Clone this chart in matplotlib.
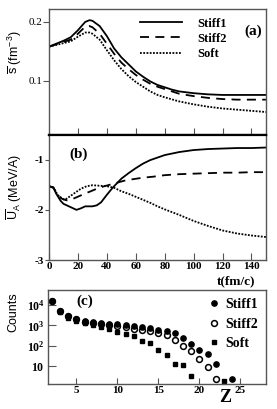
import matplotlib
matplotlib.use("Agg")
import matplotlib.pyplot as plt
import numpy as np
from matplotlib.ticker import FixedLocator, LogLocator, NullFormatter

plt.rcParams['axes.unicode_minus'] = False
plt.rcParams['mathtext.fontset'] = 'custom'
plt.rcParams['mathtext.rm'] = 'Liberation Serif'
plt.rcParams['mathtext.bf'] = 'Liberation Serif:bold'
plt.rcParams['mathtext.sf'] = 'Liberation Sans'

SERIF = 'Liberation Serif'
SANS = 'Liberation Sans'

# ---------------- data: panel (a) density ----------------
t_s_stiff1 = [0, 5, 10, 15, 20, 25, 28, 30, 35, 40, 45, 50, 55, 60, 65, 70, 75, 80, 85, 90, 100, 110, 120, 130, 140, 150]
s_stiff1 = [0.158, 0.163, 0.168, 0.174, 0.186, 0.200, 0.203, 0.202, 0.193, 0.176, 0.155, 0.140, 0.128, 0.116, 0.107,
            0.099, 0.093, 0.089, 0.085, 0.082, 0.079, 0.077, 0.076, 0.076, 0.076, 0.076]
t_s_stiff2 = [0, 5, 10, 15, 20, 25, 28, 30, 35, 40, 45, 50, 55, 60, 65, 70, 75, 80, 85, 90, 100, 110, 120, 130, 140, 150]
s_stiff2 = [0.158, 0.162, 0.166, 0.170, 0.180, 0.192, 0.193, 0.191, 0.180, 0.163, 0.146, 0.131, 0.120, 0.110, 0.102,
            0.095, 0.090, 0.086, 0.082, 0.078, 0.074, 0.071, 0.069, 0.068, 0.068, 0.068]
t_s_soft = [0, 5, 10, 15, 20, 25, 28, 30, 35, 40, 45, 50, 55, 60, 65, 70, 75, 80, 90, 100, 110, 120, 130, 140, 150]
s_soft = [0.158, 0.161, 0.164, 0.167, 0.175, 0.182, 0.182, 0.180, 0.170, 0.152, 0.135, 0.120, 0.108, 0.098, 0.090,
          0.082, 0.076, 0.072, 0.065, 0.060, 0.056, 0.053, 0.051, 0.049, 0.047]

# ---------------- data: panel (b) potential ----------------
t_u_stiff1 = [0, 3, 5, 8, 10, 13, 16, 19, 22, 25, 30, 33, 36, 40, 44, 50, 55, 60, 65, 70, 75, 80, 90, 100, 110, 120, 130, 140, 150]
u_stiff1 = [-1.53, -1.55, -1.68, -1.82, -1.88, -1.92, -1.96, -2.00, -1.97, -1.93, -1.93, -1.91, -1.85, -1.70, -1.56,
            -1.38, -1.27, -1.17, -1.08, -1.01, -0.96, -0.91, -0.85, -0.81, -0.79, -0.78, -0.77, -0.77, -0.76]
t_u_stiff2 = [0, 3, 6, 9, 12, 15, 19, 23, 28, 33, 37, 42, 47, 52, 58, 65, 72, 80, 90, 100, 110, 120, 130, 140, 150]
u_stiff2 = [-1.53, -1.56, -1.70, -1.78, -1.81, -1.80, -1.75, -1.70, -1.64, -1.58, -1.54, -1.50, -1.46, -1.42, -1.39,
            -1.36, -1.34, -1.31, -1.29, -1.28, -1.27, -1.26, -1.26, -1.25, -1.25]
t_u_soft = [0, 3, 6, 9, 11, 14, 18, 22, 26, 30, 35, 40, 45, 50, 55, 60, 65, 70, 75, 80, 90, 100, 110, 120, 130, 140, 150]
u_soft = [-1.53, -1.56, -1.70, -1.78, -1.80, -1.74, -1.66, -1.58, -1.53, -1.51, -1.52, -1.53, -1.56, -1.63, -1.68,
          -1.74, -1.80, -1.86, -1.93, -1.99, -2.10, -2.22, -2.32, -2.41, -2.47, -2.51, -2.54]

# ---------------- data: panel (c) charge distribution ----------------
z_stiff1 = [2, 3, 4, 5, 6, 7, 8, 9, 10, 11, 12, 13, 14, 15, 16, 17, 18, 19, 20, 21, 22, 24]
c_stiff1 = [16000, 5000, 3000, 2100, 1600, 1400, 1300, 1200, 1150, 1000, 900, 850, 720, 620, 540, 420, 240, 125,
            60, 37, 13, 2.3]
z_stiff2 = [2, 3, 4, 5, 6, 7, 8, 9, 10, 11, 12, 13, 14, 15, 16, 17, 18, 19, 20, 21, 22]
c_stiff2 = [16000, 5000, 2800, 2000, 1500, 1300, 1200, 1050, 950, 800, 680, 600, 530, 410, 330, 190, 96, 54, 23, 8.5, 2.3]
z_soft = [2, 3, 4, 5, 6, 7, 8, 9, 10, 11, 12, 13, 14, 15, 16, 17, 18, 19, 23]
c_soft = [15000, 4600, 2300, 1700, 1300, 1000, 800, 630, 480, 380, 300, 175, 130, 60, 36, 12.5, 11.5, 3.2, 1.9]

labels = ['Stiff1', 'Stiff2', 'Soft']

fig = plt.figure(figsize=(2.77, 4.09), dpi=100)
axa = fig.add_axes([0.177, 0.670, 0.783, 0.308])
axb = fig.add_axes([0.177, 0.364, 0.783, 0.306])
axc = fig.add_axes([0.172, 0.061, 0.788, 0.230])

spine_col = '#555555'
for ax in (axa, axb, axc):
    for sp in ax.spines.values():
        sp.set_color(spine_col)
        sp.set_linewidth(1.0)
axa.spines['bottom'].set_color('black'); axa.spines['bottom'].set_linewidth(1.6)
axb.spines['top'].set_color('black'); axb.spines['top'].set_linewidth(1.6)

lw = 1.3
# panel (a)
axa.plot(t_s_stiff1, s_stiff1, color='black', lw=lw, ls='-', label=labels[0])
axa.plot(t_s_stiff2, s_stiff2, color='black', lw=lw, ls=(0, (5, 3.5)), label=labels[1])
axa.plot(t_s_soft, s_soft, color='black', lw=lw, ls=(0, (1, 0.8)), label=labels[2])
axa.set_xlim(0, 150)
axa.set_ylim(0.008, 0.222)
axa.xaxis.set_major_locator(FixedLocator([20, 40, 60, 80, 100, 120, 140]))
axa.tick_params(axis='x', direction='in', length=5, labelbottom=False, color=spine_col)
axa.yaxis.set_major_locator(FixedLocator([0.1, 0.2]))
axa.set_yticklabels(['0.1', '0.2'], family=SERIF, fontsize=8)
axa.tick_params(axis='y', direction='out', length=4, pad=1, color=spine_col)
axa.set_ylabel(r'$\overline{\mathsf{s}}$ (fm$^{\mathsf{-3}}$)', family=SANS, fontsize=9)
axa.yaxis.set_label_coords(-0.115, 0.66)
leg = axa.legend(loc='upper right', bbox_to_anchor=(0.86, 1.0), frameon=False, handlelength=3.4,
                 handletextpad=1.2, labelspacing=0.25, borderaxespad=0.3,
                 prop={'family': SERIF, 'weight': 'bold', 'size': 9})
axa.text(0.94, 0.82, '(a)', transform=axa.transAxes, family=SERIF, weight='bold', fontsize=11,
         ha='center', va='center')

# panel (b)
axb.plot(t_u_stiff1, u_stiff1, color='black', lw=lw, ls='-')
axb.plot(t_u_stiff2, u_stiff2, color='black', lw=lw, ls=(0, (5, 3.5)))
axb.plot(t_u_soft, u_soft, color='black', lw=lw, ls=(0, (1, 0.8)))
axb.set_xlim(0, 150)
axb.set_ylim(-3, -0.51)
axb.xaxis.set_major_locator(FixedLocator([0, 20, 40, 60, 80, 100, 120, 140]))
axb.set_xticklabels(['0', '20', '40', '60', '80', '100', '120', '140'], family=SERIF, weight='bold', fontsize=8)
axb.tick_params(axis='x', direction='in', length=5, pad=1.5, color=spine_col)
axb.yaxis.set_major_locator(FixedLocator([-3, -2, -1]))
axb.set_yticklabels(['-3', '-2', '-1'], family=SERIF, weight='bold', fontsize=8)
axb.tick_params(axis='y', direction='out', length=3, pad=1, color=spine_col)
axb.set_ylabel(r'$\overline{\mathsf{U}}_{\mathsf{A}}$ (MeV/A)', family=SANS, fontsize=9)
axb.yaxis.set_label_coords(-0.115, 0.58)
axb.text(0.095, 0.845, '(b)', transform=axb.transAxes, family=SERIF, weight='bold', fontsize=11,
         ha='left', va='center')
fig.text(0.852, 0.313, 't(fm/c)', family=SERIF, weight='bold', fontsize=9.5, ha='center', va='center')

# panel (c)
axc.plot(z_stiff1, c_stiff1, ls='none', marker='o', ms=3.8, color='black', label=labels[0])
axc.plot(z_stiff2, c_stiff2, ls='none', marker='o', ms=4.2, mfc='none', mec='black', mew=1.1, label=labels[1])
axc.plot(z_soft, c_soft, ls='none', marker='s', ms=3.4, color='black', label=labels[2])
axc.set_yscale('log')
axc.set_xlim(1.5, 28.1)
axc.set_ylim(1.3, 5.5e4)
axc.xaxis.set_major_locator(FixedLocator([5, 10, 15, 20, 25]))
axc.set_xticklabels(['5', '10', '15', '20', '25'], family=SERIF, weight='bold', fontsize=8)
axc.tick_params(axis='x', direction='in', length=4, pad=1.5, color=spine_col)
axc.yaxis.set_major_locator(FixedLocator([10, 100, 1000, 10000]))
axc.set_yticklabels([r'$\mathbf{10}$', r'$\mathbf{10^{2}}$', r'$\mathbf{10^{3}}$', r'$\mathbf{10^{4}}$'], fontsize=8.5)
axc.yaxis.set_minor_locator(LogLocator(base=10, subs=np.arange(2, 10)))
axc.yaxis.set_minor_formatter(NullFormatter())
axc.tick_params(axis='y', which='major', direction='in', length=6, pad=2, color=spine_col)
axc.tick_params(axis='y', which='minor', direction='in', length=3, color=spine_col)
axc.set_ylabel('Counts', family=SANS, fontsize=9)
axc.yaxis.set_label_coords(-0.13, 0.76)
axc.legend(loc='upper right', bbox_to_anchor=(1.0, 1.0), frameon=False, handlelength=0.6,
           handletextpad=0.5, labelspacing=0.45, borderaxespad=0.4, borderpad=0.2,
           prop={'family': SERIF, 'weight': 'bold', 'size': 10})
axc.text(0.13, 0.88, '(c)', transform=axc.transAxes, family=SERIF, weight='bold', fontsize=11,
         ha='left', va='center')
fig.text(0.812, 0.028, 'Z', family=SERIF, weight='bold', fontsize=13, ha='center', va='center')

fig.savefig('out.png', dpi=100)
